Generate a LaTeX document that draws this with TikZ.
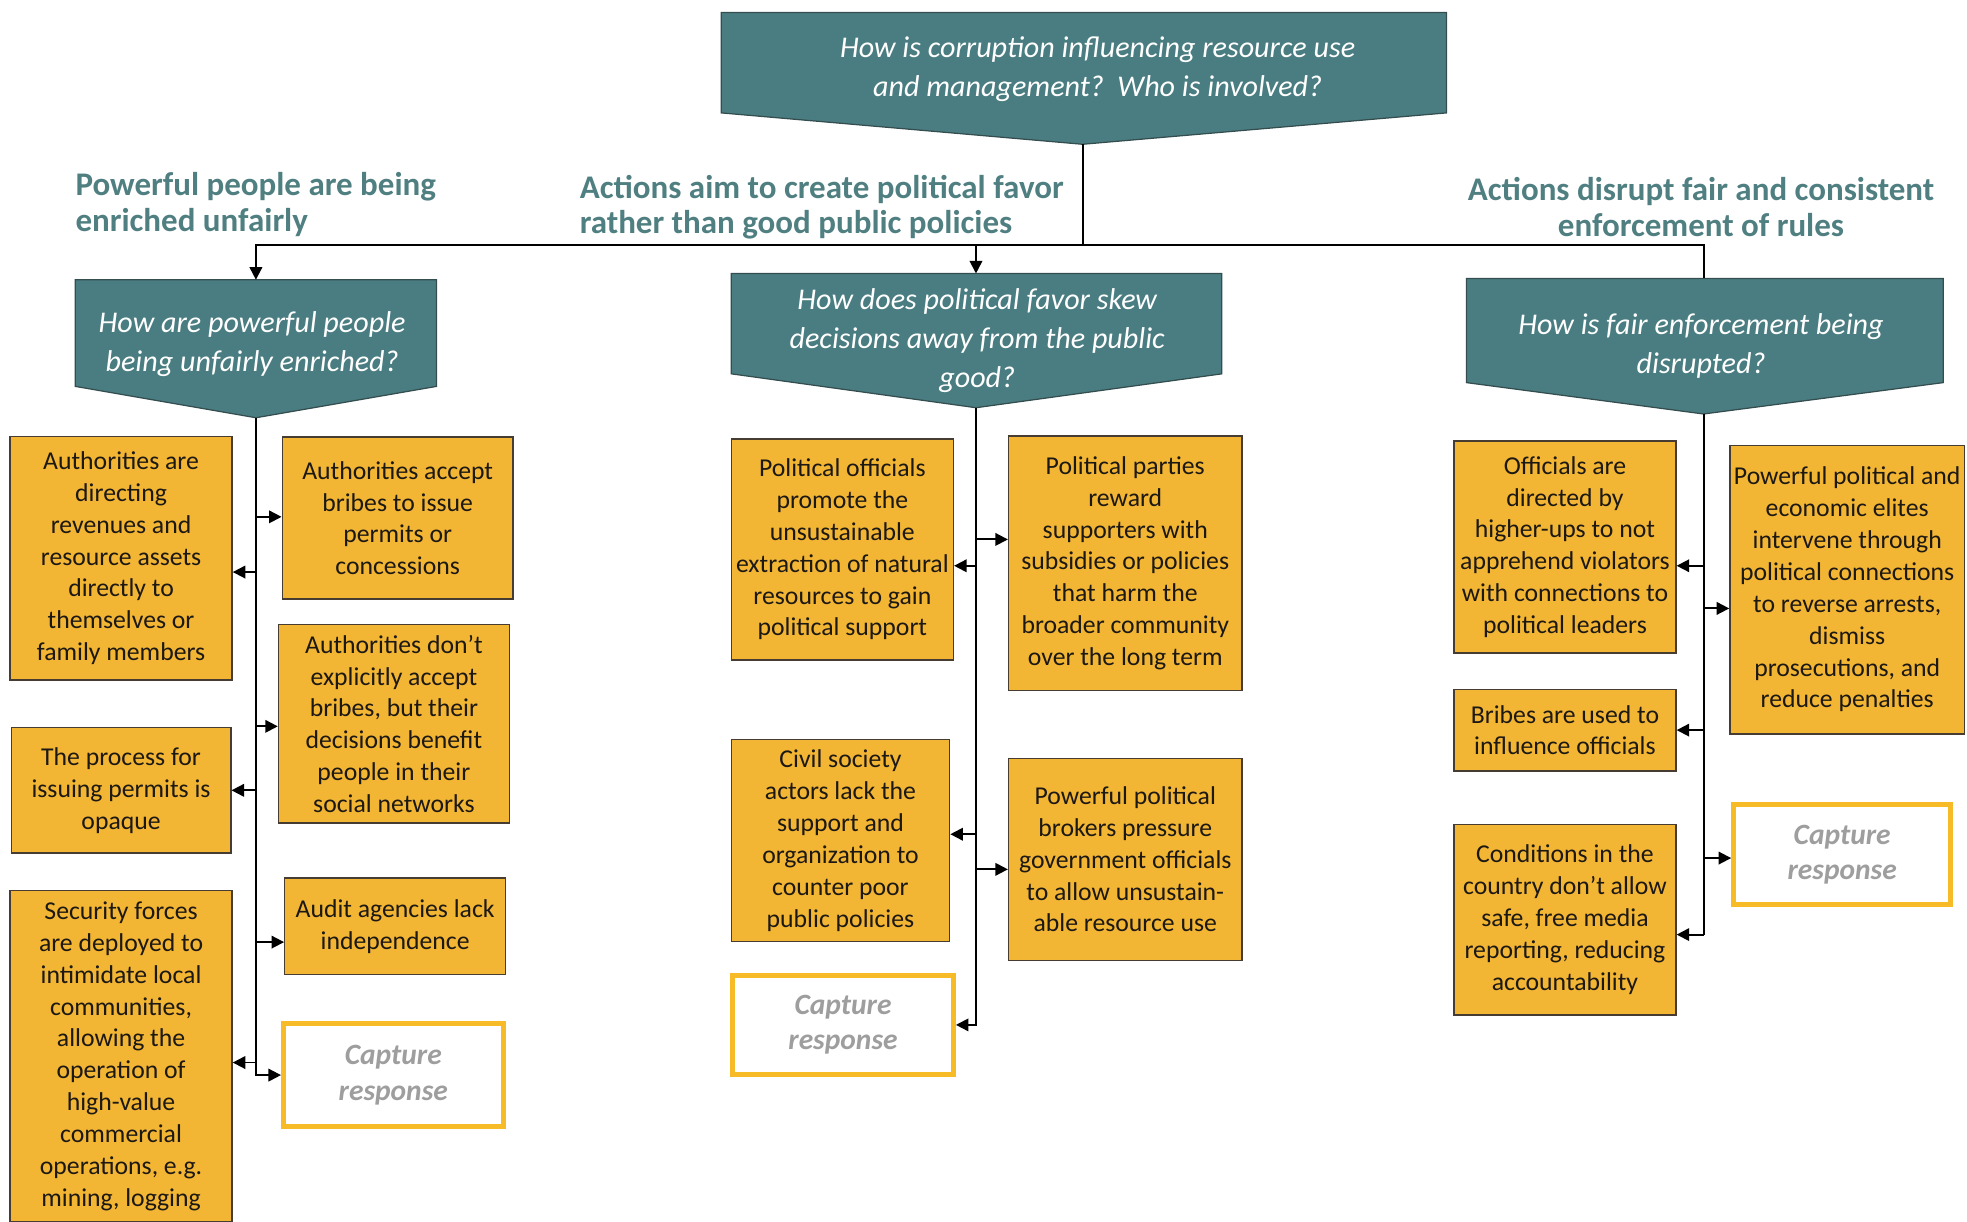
\documentclass[tikz,border=0pt]{standalone}
\usepackage{fontspec}
\setmainfont{Carlito}
\usetikzlibrary{arrows.meta}

\definecolor{headfill}{RGB}{74,125,129}
\definecolor{headline}{RGB}{52,78,80}
\definecolor{labteal}{RGB}{80,127,129}
\definecolor{gold}{RGB}{242,181,52}
\definecolor{boxline}{RGB}{70,60,50}
\definecolor{capline}{RGB}{247,187,40}
\definecolor{capgray}{RGB}{158,158,158}
\definecolor{ink}{RGB}{28,24,20}

\newcommand{\bodyfont}{\fontsize{20.5}{25.4}\selectfont}
\newcommand{\headfont}{\itshape\fontsize{24}{31}\selectfont}
\newcommand{\lblfont}{\bfseries\fontsize{26.3}{28}\selectfont}
\newcommand{\capfont}{\bfseries\itshape\fontsize{23.5}{28}\selectfont}

% pentagon-shaped question box: left x, right x, top y, side bottom y, tip x, tip y
\newcommand{\headshape}[6]{%
  \filldraw[fill=headfill,draw=headline,line width=1pt]
    (#1,#3) -- (#2,#3) -- (#2,#4) -- (#5,#6) -- (#1,#4) -- cycle;}

\tikzset{
  obox/.style={draw=boxline, line width=1.1pt, fill=gold, text=ink,
    align=center, font=\bodyfont, inner sep=0pt},
  capbox/.style={draw=capline, line width=4pt, fill=white, text=capgray,
    align=center, font=\capfont, inner sep=0pt},
  hq/.style={text=white, align=center, font=\headfont, inner sep=0pt},
  lbl/.style={text=labteal, font=\lblfont, inner sep=0pt},
  link/.style={line width=1.5pt, draw=black},
  arr/.style={link, -{Triangle[length=10pt,width=10pt]}},
}

\begin{document}
\begin{tikzpicture}[x=1pt,y=-1pt]
\useasboundingbox (0,0) rectangle (1568,974);

% question boxes
\headshape{575}{1153}{10}{90}{863}{115}
\headshape{60}{348}{223}{308}{204}{333}
\headshape{583}{974}{218}{298}{778}{325}
\headshape{1169}{1549}{222}{305}{1358}{330}

\node[hq] (qTop) at (875,55) {How is corruption influencing resource use\\and management?\ \ Who is involved?};
\node[hq] (qL) at (201,274) {How are powerful people\\being unfairly enriched?};
\node[hq] (qM) at (779,271.5) {How does political favor skew\\decisions away from the public\\good?};
\node[hq] (qR) at (1356,276) {How is fair enforcement being\\disrupted?};

\coordinate (tT) at (863,115);
\coordinate (tL) at (204,333);
\coordinate (tM) at (778,325);
\coordinate (tR) at (1358,330);
\coordinate (hL) at (204,223);
\coordinate (hM) at (778,218);
\coordinate (hR) at (1358,222);
\coordinate (bus) at (863,195);

% branch labels
\node[lbl, anchor=west, align=left] (labL) at (60,163) {Powerful people are being\\enriched unfairly};
\node[lbl, anchor=west, align=left] (labM) at (462,165) {Actions aim to create political favor\\rather than good public policies};
\node[lbl, align=center] (labR) at (1356,165) {Actions disrupt fair and consistent\\enforcement of rules};

% left column
\node[obox, minimum width=177, minimum height=194] (L1) at (96.5,445) {Authorities are\\directing\\revenues and\\resource assets\\directly to\\themselves or\\family members};
\node[obox, minimum width=175, minimum height=100] (L2) at (96.5,630) {The process for\\issuing permits is\\opaque};
\node[obox, minimum width=177, minimum height=264] (L3) at (96.5,842) {Security forces\\are deployed to\\intimidate local\\communities,\\allowing the\\operation of\\high-value\\commercial\\operations, e.g.\\mining, logging};
\node[obox, minimum width=184, minimum height=129] (A1) at (317,413) {Authorities accept\\bribes to issue\\permits or\\concessions};
\node[obox, minimum width=184, minimum height=158] (A2) at (314,577) {Authorities don’t\\explicitly accept\\bribes, but their\\decisions benefit\\people in their\\social networks};
\node[obox, minimum width=176, minimum height=77] (A3) at (315,738.5) {Audit agencies lack\\independence};
\node[capbox, minimum width=175, minimum height=82] (CapL) at (313.5,857) {Capture\\response};

% middle column
\node[obox, minimum width=177, minimum height=176] (B1) at (671.5,438) {Political officials\\promote the\\unsustainable\\extraction of natural\\resources to gain\\political support};
\node[obox, minimum width=186, minimum height=203] (B2) at (897,449) {Political parties\\reward\\supporters with\\subsidies or policies\\that harm the\\broader community\\over the long term};
\node[obox, minimum width=174, minimum height=161] (B3) at (670,670) {Civil society\\actors lack the\\support and\\organization to\\counter poor\\public policies};
\node[obox, minimum width=186, minimum height=161] (B4) at (897,685) {Powerful political\\brokers pressure\\government officials\\to allow unsustain-\\able resource use};
\node[capbox, minimum width=176, minimum height=79] (CapM) at (672,817) {Capture\\response};

% right column
\node[obox, minimum width=177, minimum height=169] (C1) at (1247.5,436) {Officials are\\directed by\\higher-ups to not\\apprehend violators\\with connections to\\political leaders};
\node[obox, minimum width=187, minimum height=230] (C2) at (1472.5,470) {Powerful political and\\economic elites\\intervene through\\political connections\\to reverse arrests,\\dismiss\\prosecutions, and\\reduce penalties};
\node[obox, minimum width=177, minimum height=65] (C3) at (1247.5,582) {Bribes are used to\\influence officials};
\node[obox, minimum width=177, minimum height=152] (C4) at (1247.5,733) {Conditions in the\\country don’t allow\\safe, free media\\reporting, reducing\\accountability};
\node[capbox, minimum width=173, minimum height=80] (CapR) at (1468.5,681) {Capture\\response};

% top-level connectors
\draw[link] (tT) -- (bus);
\draw[arr] (bus) -| (hL);
\draw[link] (bus) -| (hR);
\draw[arr] (bus -| hM) -- (hM);

% left spine
\coordinate (l1) at (204,412);
\coordinate (l2) at (204,456);
\coordinate (l3) at (204,579);
\coordinate (l4) at (204,630);
\coordinate (l5) at (204,751);
\coordinate (l6) at (204,847);
\draw[arr] (tL) |- (CapL.west);
\draw[arr] (l1) -- (l1 -| A1.west);
\draw[arr] (l2) -- (l2 -| L1.east);
\draw[arr] (l3) -- (l3 -| A2.west);
\draw[arr] (l4) -- (l4 -| L2.east);
\draw[arr] (l5) -- (l5 -| A3.west);
\draw[arr] (l6) -- (l6 -| L3.east);

% middle spine
\coordinate (m1) at (778,430);
\coordinate (m2) at (778,451);
\coordinate (m3) at (778,665);
\coordinate (m4) at (778,693);
\draw[arr] (tM) |- (CapM.east);
\draw[arr] (m1) -- (m1 -| B2.west);
\draw[arr] (m2) -- (m2 -| B1.east);
\draw[arr] (m3) -- (m3 -| B3.east);
\draw[arr] (m4) -- (m4 -| B4.west);

% right spine
\coordinate (r1) at (1358,451);
\coordinate (r2) at (1358,485);
\coordinate (r3) at (1358,582);
\coordinate (r4) at (1358,684);
\coordinate (r5) at (1358,745);
\draw[link] (tR) -- (r5);
\draw[arr] (r5) -- (r5 -| C4.east);
\draw[arr] (r1) -- (r1 -| C1.east);
\draw[arr] (r2) -- (r2 -| C2.west);
\draw[arr] (r3) -- (r3 -| C3.east);
\draw[arr] (r4) -- (r4 -| CapR.west);
\end{tikzpicture}
\end{document}
